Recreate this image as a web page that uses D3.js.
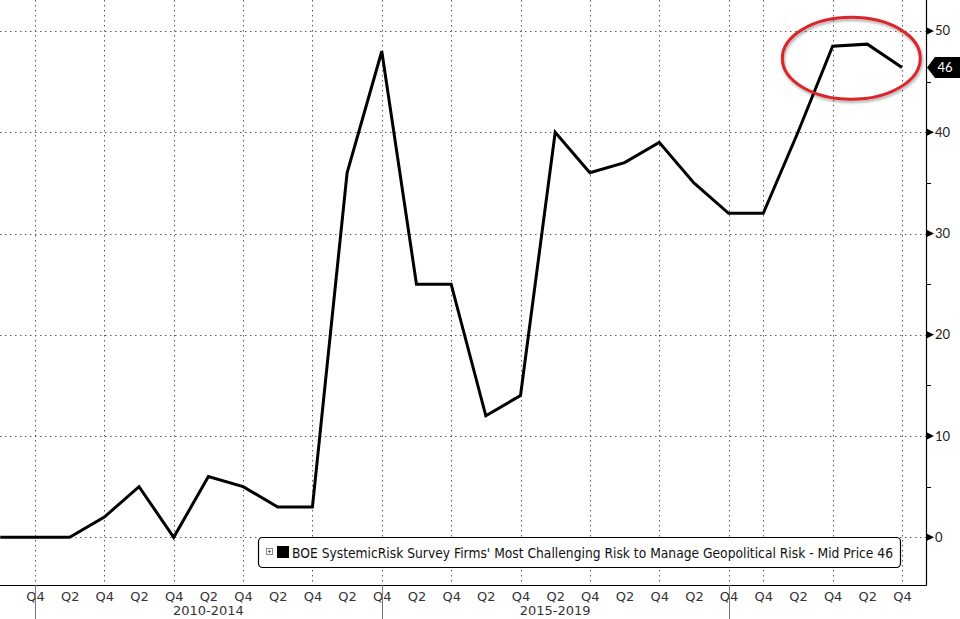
<!DOCTYPE html>
<html>
<head>
<meta charset="utf-8">
<script src="https://cdn.jsdelivr.net/npm/d3@7"></script>
<style>
  html, body { margin: 0; padding: 0; background: #ffffff; }
  svg { display: block; }
</style>
</head>
<body>
<svg id="chart" width="960" height="619"></svg>
<script>
// ---- Data ----
const periods = ["2009 Q2","2009 Q4","2010 Q2","2010 Q4","2011 Q2","2011 Q4","2012 Q2","2012 Q4",
  "2013 Q2","2013 Q4","2014 Q2","2014 Q4","2015 Q2","2015 Q4","2016 Q2","2016 Q4","2017 Q2","2017 Q4",
  "2018 Q2","2018 Q4","2019 Q2","2019 Q4","2020 Q4","2021 Q2","2021 Q4","2022 Q2","2022 Q4"];
const values = [0, 0, 0, 2, 5, 0, 6, 5, 3, 3, 36, 48, 25, 25, 12, 14, 40, 36, 37, 39, 35, 32, 32, 40, 48.5, 48.7, 46.4];
const yTicks = [0, 10, 20, 30, 40, 50];
const yMinorTicks = [5, 15, 25, 35, 45];
const groups = [
  { label: "2010-2014", from: "2009 Q4", to: "2014 Q4" },
  { label: "2015-2019", from: "2014 Q4", to: "2019 Q4" }
];
const separators = ["2009 Q4", "2014 Q4", "2019 Q4"];
const legendText = "BOE SystemicRisk Survey Firms' Most Challenging Risk to Manage Geopolitical Risk - Mid Price 46";
const lastLabel = "46";

// ---- Layout ----
const svg = d3.select("#chart");
const plot = { left: 0, right: 926, top: 0, bottom: 585 };

const x = d3.scalePoint().domain(periods).range([0.3, 902]);
const y = d3.scaleLinear().domain([-4.71, 53.06]).range([plot.bottom, plot.top]);

const gridColor = "#5a5a5a";

// horizontal dotted gridlines
svg.append("g").selectAll("line").data(yTicks).join("line")
  .attr("x1", plot.left).attr("x2", plot.right)
  .attr("y1", d => Math.round(y(d)) + 0.5).attr("y2", d => Math.round(y(d)) + 0.5)
  .attr("stroke", gridColor).attr("stroke-width", 1).attr("stroke-dasharray", "1.5,3.5");

// vertical dotted gridlines at Q4
const q4 = periods.filter(p => p.endsWith("Q4"));
svg.append("g").selectAll("line").data(q4).join("line")
  .attr("x1", d => Math.round(x(d)) + 0.5).attr("x2", d => Math.round(x(d)) + 0.5)
  .attr("y1", plot.top).attr("y2", plot.bottom)
  .attr("stroke", gridColor).attr("stroke-width", 1).attr("stroke-dasharray", "1.5,3.5");

// series line
const line = d3.line().x((d, i) => x(periods[i])).y(d => y(d));
svg.append("path").datum(values)
  .attr("d", line)
  .attr("fill", "none").attr("stroke", "#000").attr("stroke-width", 3)
  .attr("stroke-linejoin", "miter");

// axes lines
svg.append("line").attr("x1", plot.left).attr("x2", plot.right + 0.5)
  .attr("y1", plot.bottom + 0.5).attr("y2", plot.bottom + 0.5)
  .attr("stroke", "#000").attr("stroke-width", 1.2);
svg.append("line").attr("x1", plot.right + 0.5).attr("x2", plot.right + 0.5)
  .attr("y1", plot.top).attr("y2", plot.bottom + 0.5)
  .attr("stroke", "#000").attr("stroke-width", 1.2);

// x tick labels
const xAxisG = svg.append("g").attr("transform", `translate(0,${plot.bottom})`);
const xAxis = d3.axisBottom(x).tickSize(0).tickPadding(0)
  .tickValues(periods.slice(1))
  .tickFormat(d => d.split(" ")[1]);
xAxisG.call(xAxis);
xAxisG.select(".domain").remove();
xAxisG.selectAll("text")
  .attr("y", 15.5).attr("dy", null)
  .attr("font-family", "'DejaVu Sans', sans-serif").attr("font-size", 13)
  .attr("fill", "#333");

// group separators
svg.append("g").selectAll("line").data(separators).join("line")
  .attr("x1", d => Math.round(x(d)) + 0.5).attr("x2", d => Math.round(x(d)) + 0.5)
  .attr("y1", plot.bottom).attr("y2", 619)
  .attr("stroke", "#777").attr("stroke-width", 1);

// group labels
svg.append("g").selectAll("text").data(groups).join("text")
  .attr("x", d => (x(d.from) + x(d.to)) / 2)
  .attr("y", 615)
  .attr("text-anchor", "middle")
  .attr("font-family", "'DejaVu Sans', sans-serif").attr("font-size", 13)
  .attr("fill", "#333")
  .text(d => d.label);

// right axis ticks
const rAxis = svg.append("g");
rAxis.selectAll("path.tri").data(yTicks).join("path")
  .attr("class", "tri")
  .attr("d", d => {
    const yy = y(d);
    return `M${plot.right + 1},${yy - 3.5}L${plot.right + 8},${yy}L${plot.right + 1},${yy + 3.5}Z`;
  })
  .attr("fill", "#000");
rAxis.selectAll("line.minor").data(yMinorTicks).join("line")
  .attr("class", "minor")
  .attr("x1", plot.right).attr("x2", plot.right + 5)
  .attr("y1", d => Math.round(y(d)) + 0.5).attr("y2", d => Math.round(y(d)) + 0.5)
  .attr("stroke", "#000").attr("stroke-width", 1);
rAxis.selectAll("text").data(yTicks).join("text")
  .attr("x", plot.right + 9)
  .attr("y", d => y(d) + 4.5)
  .attr("font-family", "Lato, 'DejaVu Sans', sans-serif").attr("font-size", 13)
  .attr("fill", "#222")
  .text(d => d);

// last value tag
const lastY = y(values[values.length - 1]);
svg.append("path")
  .attr("d", `M${plot.right + 1},${lastY}L${plot.right + 9},${lastY - 10.5}L960,${lastY - 10.5}L960,${lastY + 10.5}L${plot.right + 9},${lastY + 10.5}Z`)
  .attr("fill", "#000");
svg.append("text")
  .attr("x", 945).attr("y", lastY + 4.5)
  .attr("text-anchor", "middle")
  .attr("font-family", "Lato, 'DejaVu Sans', sans-serif").attr("font-size", 13)
  .attr("fill", "#fff")
  .text(lastLabel);

// legend
const lg = svg.append("g");
lg.append("rect")
  .attr("x", 258.5).attr("y", 537.5).attr("width", 642).attr("height", 30)
  .attr("rx", 4).attr("fill", "#fff").attr("stroke", "#000").attr("stroke-width", 1.2);
lg.append("rect").attr("x", 266.5).attr("y", 548.5).attr("width", 6).attr("height", 6)
  .attr("fill", "#fff").attr("stroke", "#888").attr("stroke-width", 1);
lg.append("line").attr("x1", 268).attr("x2", 271).attr("y1", 551.5).attr("y2", 551.5)
  .attr("stroke", "#666").attr("stroke-width", 1);
lg.append("line").attr("x1", 269.5).attr("x2", 269.5).attr("y1", 550).attr("y2", 553)
  .attr("stroke", "#666").attr("stroke-width", 1);
lg.append("rect").attr("x", 277).attr("y", 546).attr("width", 12).attr("height", 12).attr("fill", "#000");
lg.append("text")
  .attr("x", 292).attr("y", 558)
  .attr("font-family", "'DejaVu Sans', sans-serif").attr("font-size", 13.5)
  .attr("fill", "#111")
  .attr("textLength", 601).attr("lengthAdjust", "spacingAndGlyphs")
  .text(legendText);

// red highlight ellipse
const defs = svg.append("defs");
const f = defs.append("filter").attr("id", "shadow").attr("x", "-20%").attr("y", "-20%").attr("width", "140%").attr("height", "140%");
f.append("feGaussianBlur").attr("in", "SourceAlpha").attr("stdDeviation", 1.5).attr("result", "b");
f.append("feOffset").attr("in", "b").attr("dx", 1).attr("dy", 1.5).attr("result", "o");
f.append("feComponentTransfer").attr("in", "o").attr("result", "oa")
  .append("feFuncA").attr("type", "linear").attr("slope", 0.35);
const m = f.append("feMerge");
m.append("feMergeNode").attr("in", "oa");
m.append("feMergeNode").attr("in", "SourceGraphic");

svg.append("ellipse")
  .attr("cx", x("2022 Q2") - 16).attr("cy", y(47.3))
  .attr("rx", 69).attr("ry", 41)
  .attr("fill", "none").attr("stroke", "#d9262c").attr("stroke-width", 3)
  .attr("filter", "url(#shadow)");
</script>
</body>
</html>
